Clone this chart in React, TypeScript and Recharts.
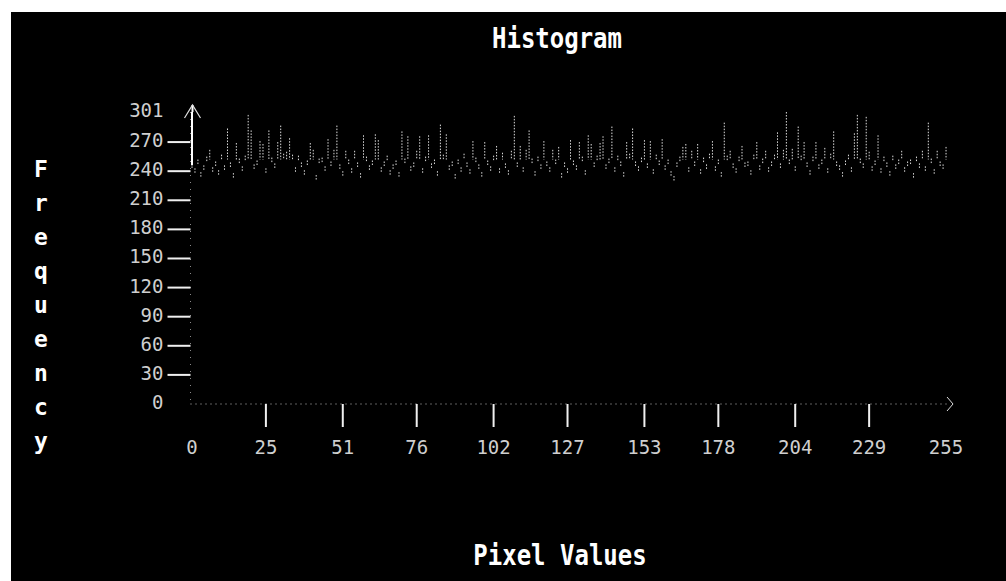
import React from 'react';
import { BarChart, Bar, XAxis, YAxis, ReferenceLine } from 'recharts';

// Pixel value bins (categories 0..255)
const bins: number[] = Array.from({ length: 256 }, (_, i) => i);

// Frequency per pixel value
const freq: number[] = [
  248, 243, 252, 239, 246, 255, 262, 244, 250, 241, 257, 246, 284, 249, 238, 269,
  253, 245, 256, 298, 282, 247, 251, 271, 268, 243, 282, 254, 248, 270, 287, 258,
  260, 274, 257, 244, 256, 249, 241, 251, 269, 262, 236, 253, 254, 245, 273, 250,
  262, 287, 247, 240, 261, 252, 243, 261, 249, 238, 277, 255, 246, 251, 278, 272,
  244, 250, 256, 241, 247, 251, 239, 281, 253, 276, 245, 249, 261, 276, 243, 255,
  277, 248, 252, 240, 288, 257, 278, 246, 250, 237, 252, 244, 258, 249, 242, 271,
  254, 247, 239, 270, 251, 245, 256, 266, 243, 259, 248, 241, 261, 297, 249, 266,
  244, 262, 282, 253, 240, 255, 247, 271, 250, 244, 262, 252, 265, 238, 249, 243,
  272, 251, 246, 270, 255, 241, 277, 268, 249, 256, 269, 276, 247, 253, 286, 244,
  256, 250, 239, 270, 258, 284, 250, 245, 254, 272, 248, 271, 242, 257, 251, 273,
  246, 252, 240, 235, 249, 255, 265, 268, 244, 261, 250, 268, 242, 254, 247, 258,
  271, 245, 252, 239, 290, 256, 261, 248, 243, 255, 266, 249, 250, 241, 257, 270,
  246, 253, 261, 244, 250, 257, 280, 248, 262, 301, 252, 263, 245, 286, 256, 270,
  249, 241, 255, 270, 247, 252, 264, 243, 258, 281, 250, 246, 239, 251, 257, 244,
  279, 298, 253, 248, 296, 260, 245, 251, 277, 243, 255, 249, 240, 256, 247, 252,
  261, 244, 250, 252, 238, 255, 248, 261, 245, 290, 253, 242, 261, 250, 247, 265,
];

const xTickLabels: number[] = [0, 25, 51, 76, 102, 127, 153, 178, 204, 229, 255];
const yTickLabels: number[] = [0, 30, 60, 90, 120, 150, 180, 210, 240, 270, 301];
const yMax = 301;

const titleText = 'Histogram';
const xLabelText = 'Pixel Values';
const yLabelText = 'Frequency';

const data = bins.map((b, i) => ({ bin: b, freq: freq[i] }));

const MONO = '"DejaVu Sans Mono", "Liberation Mono", monospace';

const XTick = (props: any) => {
  const { x, y, payload } = props;
  const v = payload.value;
  if (!xTickLabels.includes(v)) return <g />;
  const showLine = v !== 0 && v !== 255;
  return (
    <g>
      {showLine && <line x1={x} x2={x} y1={y} y2={y + 23} stroke="#f0f0f0" strokeWidth={2} />}
      {v === 255 && (
        <polyline points={`${x + 1},${y - 7} ${x + 7},${y} ${x + 1},${y + 7}`} fill="none" stroke="#ddd" strokeWidth={1} />
      )}
      <text x={x} y={y + 43} textAnchor="middle" dominantBaseline="central" fontFamily={MONO} fontSize={19} fill="#cfcfcf">
        {v}
      </text>
    </g>
  );
};

const YTick = (props: any) => {
  const { x, y, payload } = props;
  const v = payload.value;
  const showLine = v !== 0 && v !== yMax;
  return (
    <g>
      {showLine && <line x1={x - 23} x2={x} y1={y} y2={y} stroke="#f0f0f0" strokeWidth={2} />}
      {v === yMax && (
        <g>
          <line x1={x + 2} x2={x + 2} y1={y} y2={y - 7} stroke="#fff" strokeWidth={2} />
          <polyline points={`${x - 6},${y + 6} ${x + 2},${y - 7} ${x + 10},${y + 6}`} fill="none" stroke="#e0e0e0" strokeWidth={1.2} />
        </g>
      )}
      <text x={x - 27} y={y - 2} textAnchor="end" dominantBaseline="central" fontFamily={MONO} fontSize={19} fill="#cfcfcf">
        {v}
      </text>
    </g>
  );
};

const BarTop = (props: any) => {
  const { x, y, width, height, payload } = props;
  if (!height || height <= 0) return <g />;
  const v = payload.freq;
  const bottom = y + height;
  const yLow = bottom - (height * 252) / v;
  const y2 = Math.max(yLow, y + 5);
  const cx = x + width / 2;
  return <line x1={cx} x2={cx} y1={y} y2={y2} stroke="#dcdcdc" strokeWidth={1} strokeDasharray="1.5 1.5" />;
};

export default function App() {
  return (
    <div style={{ position: 'absolute', left: 0, top: 0, width: 1006, height: 581, background: '#fff', overflow: 'hidden' }}>
      <div style={{ position: 'absolute', left: 11, top: 12, width: 995, height: 569, background: '#000' }} />
      <div style={{ position: 'absolute', left: 0, top: 0 }}>
        <BarChart
          width={1006}
          height={581}
          data={data}
          margin={{ top: 112, right: 58.5, bottom: 137, left: 130.5 }}
          barCategoryGap={0}
          barGap={0}
        >
          <XAxis
            dataKey="bin"
            type="category"
            interval={0}
            height={40}
            tickSize={0}
            tickMargin={0}
            tickLine={false}
            axisLine={{ stroke: '#bdbdbd', strokeDasharray: '1 4' }}
            tick={<XTick />}
          />
          <YAxis
            type="number"
            domain={[0, yMax]}
            ticks={yTickLabels}
            interval={0}
            width={60}
            tickSize={0}
            tickMargin={0}
            tickLine={false}
            axisLine={{ stroke: '#8a8a8a', strokeDasharray: '1 6' }}
            tick={<YTick />}
          />
          <ReferenceLine
            segment={[{ x: 0, y: 246 }, { x: 0, y: yMax }]}
            stroke="#ffffff"
            strokeWidth={2}
            position="middle"
            ifOverflow="visible"
          />
          <Bar dataKey="freq" isAnimationActive={false} shape={<BarTop />} />
        </BarChart>
      </div>
      <svg width={1006} height={581} style={{ position: 'absolute', left: 0, top: 0, pointerEvents: 'none' }}>
        <text transform="translate(557,48) scale(1,1.2)" textAnchor="middle" fontFamily={MONO} fontWeight="bold" fontSize={24} fill="#fff">
          {titleText}
        </text>
        <text transform="translate(560,565) scale(1,1.2)" textAnchor="middle" fontFamily={MONO} fontWeight="bold" fontSize={24} fill="#fff">
          {xLabelText}
        </text>
        {yLabelText.split('').map((ch, i) => (
          <text key={i} x={41} y={177 + i * 34} textAnchor="middle" fontFamily={MONO} fontWeight="bold" fontSize={23} fill="#fff">
            {ch}
          </text>
        ))}
      </svg>
    </div>
  );
}
